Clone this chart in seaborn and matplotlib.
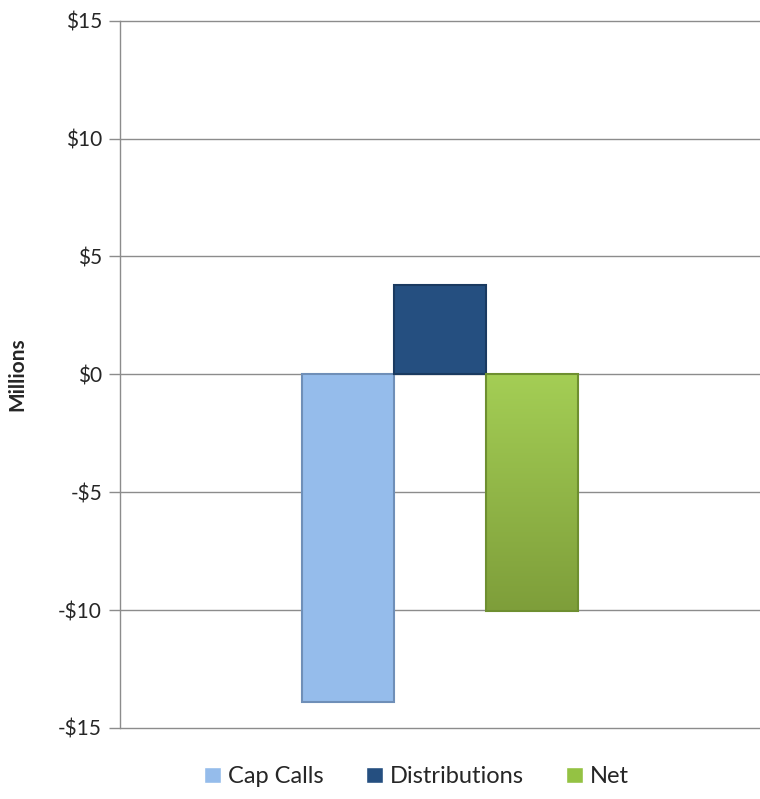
import matplotlib
matplotlib.use("Agg")
import matplotlib.pyplot as plt
import seaborn as sns
import pandas as pd
import numpy as np

series = ["Cap Calls", "Distributions", "Net"]
values = [-13.9, 3.8, -10.05]
colors = ["#95BCEB", "#254F80", "#94C243"]
edge_colors = ["#6F8FB8", "#1A3A60", "#6E8F30"]
yticks = [-15, -10, -5, 0, 5, 10, 15]
ytick_labels = ["-$15", "-$10", "-$5", "$0", "$5", "$10", "$15"]

sns.set_theme(style="white")
plt.rcParams["font.family"] = ["Lato", "DejaVu Sans"]

df = pd.DataFrame({"cat": [""] * 3, "series": series, "value": values})

fig = plt.figure(figsize=(7.6, 7.99), dpi=100)
ax = fig.add_axes([0.158, 0.089, 0.842, 0.885])

sns.barplot(data=df, x="cat", y="value", hue="series", hue_order=series,
            palette=colors, width=0.43, ax=ax, legend=True, saturation=1)

for patch, ec in zip(ax.patches, edge_colors):
    patch.set_edgecolor(ec)
    patch.set_linewidth(1.5)

# vertical gradient on the Net bar (lighter at top, darker at bottom)
net = ax.patches[2]
x0, y0 = net.get_x(), net.get_y()
w, hgt = net.get_width(), net.get_height()
grad = np.linspace(0, 1, 256).reshape(-1, 1)
cmap = matplotlib.colors.LinearSegmentedColormap.from_list("g", ["#A4CE55", "#7E9E3A"])
ybot, ytop = min(y0, y0 + hgt), max(y0, y0 + hgt)
im = ax.imshow(grad, extent=[x0, x0 + w, ybot, ytop], origin="upper", cmap=cmap,
               aspect="auto", zorder=net.get_zorder() + 0.1)
im.set_clip_path(net)
net.set_facecolor("none")
net.set_zorder(net.get_zorder() + 0.2)

ax.set_ylim(-15, 15)
ax.set_xlim(-0.5, 0.5)
ax.set_yticks(yticks)
ax.set_yticklabels(ytick_labels, fontsize=15)
ax.set_xticks([])
ax.set_xlabel("")
ax.set_ylabel("Millions", fontsize=15, fontweight="bold", labelpad=22)
ax.yaxis.grid(True, color="#8C8C8C", linewidth=1)
for gl in ax.get_ygridlines():
    gl.set_clip_on(False)
ax.set_axisbelow(True)
for s in ["top", "right", "bottom"]:
    ax.spines[s].set_visible(False)
ax.spines["left"].set_color("#8C8C8C")
ax.spines["left"].set_linewidth(1)
ax.tick_params(axis="y", left=True, length=8, color="#8C8C8C", width=1, pad=5)

h, l = ax.get_legend_handles_labels()
ax.legend_.remove()
fig.legend(h, l, loc="lower center", bbox_to_anchor=(0.548, -0.012), ncol=3,
           frameon=False, fontsize=17, handlelength=0.7, handleheight=0.7,
           handletextpad=0.3, columnspacing=1.8)

fig.savefig("out.png", dpi=100)
